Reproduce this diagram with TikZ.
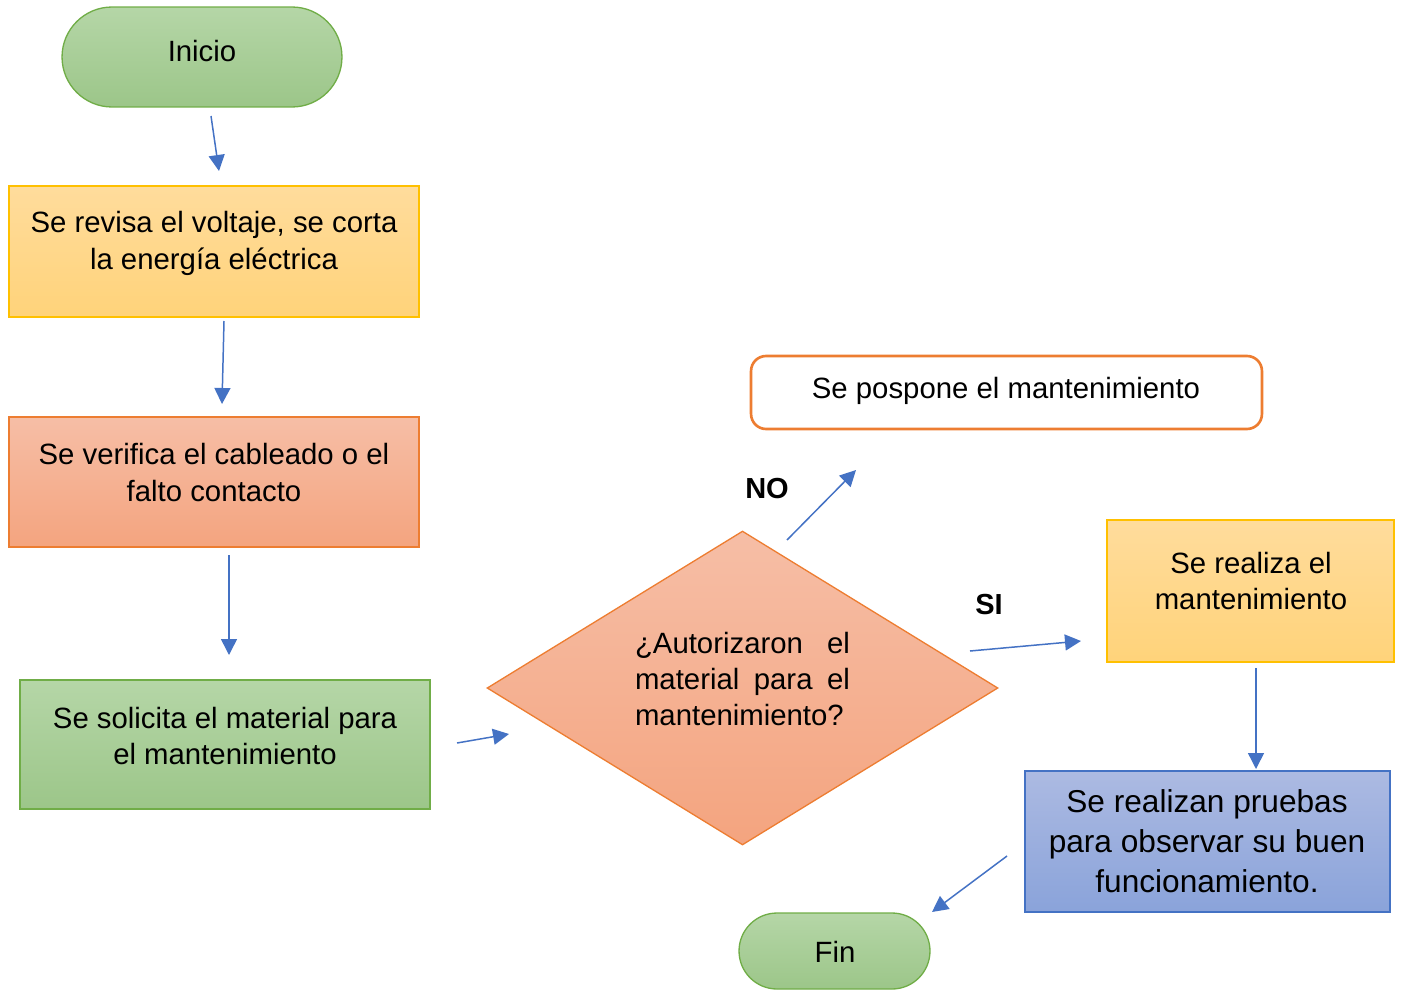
\documentclass[tikz,border=0pt]{standalone}
\usepackage{fontspec}
\setmainfont{Liberation Sans}
\usetikzlibrary{shapes.geometric,shapes.misc,arrows.meta}

\definecolor{grnTop}{HTML}{B5D6A7}
\definecolor{grnBot}{HTML}{9CC689}
\definecolor{grnLine}{HTML}{70AD47}
\definecolor{ylwTop}{HTML}{FFDC9C}
\definecolor{ylwBot}{HTML}{FFD37A}
\definecolor{ylwLine}{HTML}{FFC000}
\definecolor{orgTop}{HTML}{F6BEA6}
\definecolor{orgBot}{HTML}{F4A47F}
\definecolor{orgLine}{HTML}{ED7D31}
\definecolor{bluTop}{HTML}{ACBAE2}
\definecolor{bluBot}{HTML}{8AA3DA}
\definecolor{bluLine}{HTML}{4472C4}

\newcommand{\boxfont}{\fontsize{16.7}{21}\selectfont}

\begin{document}
\begin{tikzpicture}[x=0.02cm,y=-0.02cm]
\tikzstyle{every node}=[inner sep=0pt]
\tikzstyle{txt}=[align=center,font=\boxfont]
\tikzstyle{term}=[rounded rectangle,draw=grnLine,line width=0.75pt,top color=grnTop,bottom color=grnBot]
\tikzstyle{box}=[rectangle,line width=0.75pt]
\tikzstyle{green}=[box,draw=grnLine,top color=grnTop,bottom color=grnBot]
\tikzstyle{yellow}=[box,draw=ylwLine,top color=ylwTop,bottom color=ylwBot]
\tikzstyle{orange}=[box,draw=orgLine,top color=orgTop,bottom color=orgBot]
\tikzstyle{blue}=[box,draw=bluLine,top color=bluTop,bottom color=bluBot]
\tikzstyle{flow}=[draw=bluLine,line width=0.85pt,-{Triangle[length=0.32cm,width=0.32cm]}]
\tikzstyle{answer}=[font=\fontsize{16.5}{19}\selectfont\bfseries]

\useasboundingbox (0,0) rectangle (1402,990);

% left column
\node[term,minimum width=5.6cm,minimum height=2cm](inicio) at (202,57) {};
\node[txt](inicio-t) at (202,51) {Inicio};
\node[yellow,minimum width=8.2cm,minimum height=2.62cm](revisa) at (214,251.5) {};
\node[txt](revisa-t) at (214,243) {Se revisa el voltaje, se corta\\la energía eléctrica};
\node[orange,minimum width=8.2cm,minimum height=2.6cm](verifica) at (214,482) {};
\node[txt](verifica-t) at (214,472.5) {Se verifica el cableado o el\\falto contacto};
\node[green,minimum width=8.2cm,minimum height=2.58cm](solicita) at (225,744.5) {};
\node[txt](solicita-t) at (225,736) {Se solicita el material para\\el mantenimiento};

% decision
\node[diamond,draw=orgLine,line width=0.75pt,top color=orgTop,bottom color=orgBot,
      minimum width=10.22cm,minimum height=6.28cm](autoriza) at (742.5,688) {};
\node[txt,align=left,text width=4.3cm,font=\fontsize{16.7}{20.3}\selectfont](autoriza-t) at (742.5,679)
  {¿Autorizaron\hfill el\\material\hfill para\hfill el\\mantenimiento?};

% right side
\node[rectangle,rounded corners=0.3cm,draw=orgLine,line width=1.5pt,fill=white,
      minimum width=10.22cm,minimum height=1.46cm](pospone) at (1006.5,392.5) {};
\node[txt](pospone-t) at (1006,391) {Se pospone el mantenimiento};
\node[yellow,minimum width=5.74cm,minimum height=2.84cm](realiza) at (1250.5,591) {};
\node[txt,font=\fontsize{16.7}{20.5}\selectfont](realiza-t) at (1251,581) {Se realiza el\\mantenimiento};
\node[blue,minimum width=7.3cm,minimum height=2.82cm](pruebas) at (1207.5,841.5) {};
\node[txt,font=\fontsize{18}{22.7}\selectfont](pruebas-t) at (1207,841) {Se realizan pruebas\\para observar su buen\\funcionamiento.};
\node[term,minimum width=3.82cm,minimum height=1.52cm](fin) at (834.5,951) {};
\node[txt](fin-t) at (835,952) {Fin};

% answers
\node[answer](no) at (767,489) {NO};
\node[answer](si) at (989,605) {SI};

% arrow ends
\coordinate (c1a) at (211,116);   \coordinate (c1b) at (219,171);
\coordinate (c2a) at (224,321);   \coordinate (c2b) at (222,404);
\coordinate (c3a) at (229,555);   \coordinate (c3b) at (229,655);
\coordinate (c4a) at (457,743);   \coordinate (c4b) at (509,734);
\coordinate (c5a) at (787,540);   \coordinate (c5b) at (856,470);
\coordinate (c6a) at (970,651);   \coordinate (c6b) at (1081,641);
\coordinate (c7a) at (1256,668);  \coordinate (c7b) at (1256,769);
\coordinate (c8a) at (1007,856);  \coordinate (c8b) at (932,912);

\draw[flow] (c1a) -- (c1b);
\draw[flow] (c2a) -- (c2b);
\draw[flow] (c3a) -- (c3b);
\draw[flow] (c4a) -- (c4b);
\draw[flow] (c5a) -- (c5b);
\draw[flow] (c6a) -- (c6b);
\draw[flow] (c7a) -- (c7b);
\draw[flow] (c8a) -- (c8b);
\end{tikzpicture}
\end{document}
